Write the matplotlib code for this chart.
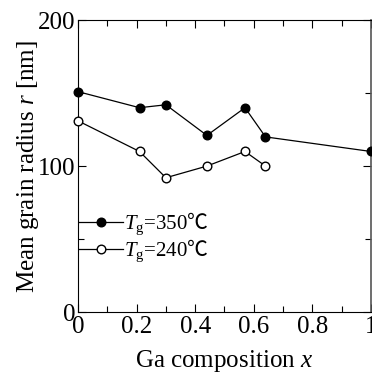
import matplotlib
matplotlib.use("Agg")
import matplotlib.pyplot as plt
from matplotlib.ticker import MultipleLocator

plt.rcParams['font.family'] = ['Liberation Serif', 'DejaVu Serif']
plt.rcParams['mathtext.fontset'] = 'custom'
plt.rcParams['mathtext.rm'] = 'Liberation Serif'
plt.rcParams['mathtext.it'] = 'Liberation Serif:italic'
plt.rcParams['mathtext.sf'] = 'Noto Sans CJK JP'
plt.rcParams['mathtext.fallback'] = 'stix'

x_350 = [0.0, 0.21, 0.30, 0.44, 0.57, 0.64, 1.0]
r_350 = [151, 140, 142, 121, 140, 120, 110]
x_240 = [0.0, 0.21, 0.30, 0.44, 0.57, 0.64]
r_240 = [131, 110, 92, 100, 110, 100]
labels = [r'$T_{\mathrm{g}}$=350$\mathsf{℃}$', r'$T_{\mathrm{g}}$=240$\mathsf{℃}$']
xticks = [0, 0.2, 0.4, 0.6, 0.8, 1.0]
xticklabels = ['0', '0.2', '0.4', '0.6', '0.8', '1']
yticks = [0, 100, 200]
yticklabels = ['0', '100', '200']

fig = plt.figure(figsize=(3.72, 3.73), dpi=100)
ax = fig.add_axes([0.2097, 0.1635, 0.7875, 0.7825])

ax.plot(x_350, r_350, '-o', color='black', lw=0.9, ms=6.2, mfc='black',
        mec='black', mew=1.0, label=labels[0], clip_on=False, zorder=3)
ax.plot(x_240, r_240, '-o', color='black', lw=0.9, ms=6.2, mfc='white',
        mec='black', mew=1.0, label=labels[1], clip_on=False, zorder=3)

ax.set_xlim(0, 1)
ax.set_ylim(0, 200)
ax.set_xticks(xticks)
ax.set_xticklabels(xticklabels)
ax.xaxis.set_minor_locator(MultipleLocator(0.1))
ax.set_yticks(yticks)
ax.set_yticklabels(yticklabels)
ax.yaxis.set_minor_locator(MultipleLocator(50))
ax.tick_params(which='both', direction='in', top=True, right=True,
               labelsize=18, width=0.8)
ax.tick_params(which='major', length=6)
ax.tick_params(axis='x', which='major', pad=3)
ax.tick_params(axis='y', which='major', pad=2)
ax.tick_params(which='minor', length=4)
for s in ax.spines.values():
    s.set_linewidth(0.8)
ax.spines['right'].set_linewidth(1.2)
ax.spines['right'].set_color('#555555')

ax.set_xlabel('Ga composition $x$', fontsize=18, labelpad=7)
ax.set_ylabel('Mean grain radius $r$ [nm]', fontsize=18, labelpad=-2)

ax.legend(loc='upper left', bbox_to_anchor=(-0.025, 0.375), frameon=False,
          fontsize=15, handlelength=2.1, handletextpad=0.05, labelspacing=0.02,
          borderaxespad=0)

fig.savefig('out.png', dpi=100)
